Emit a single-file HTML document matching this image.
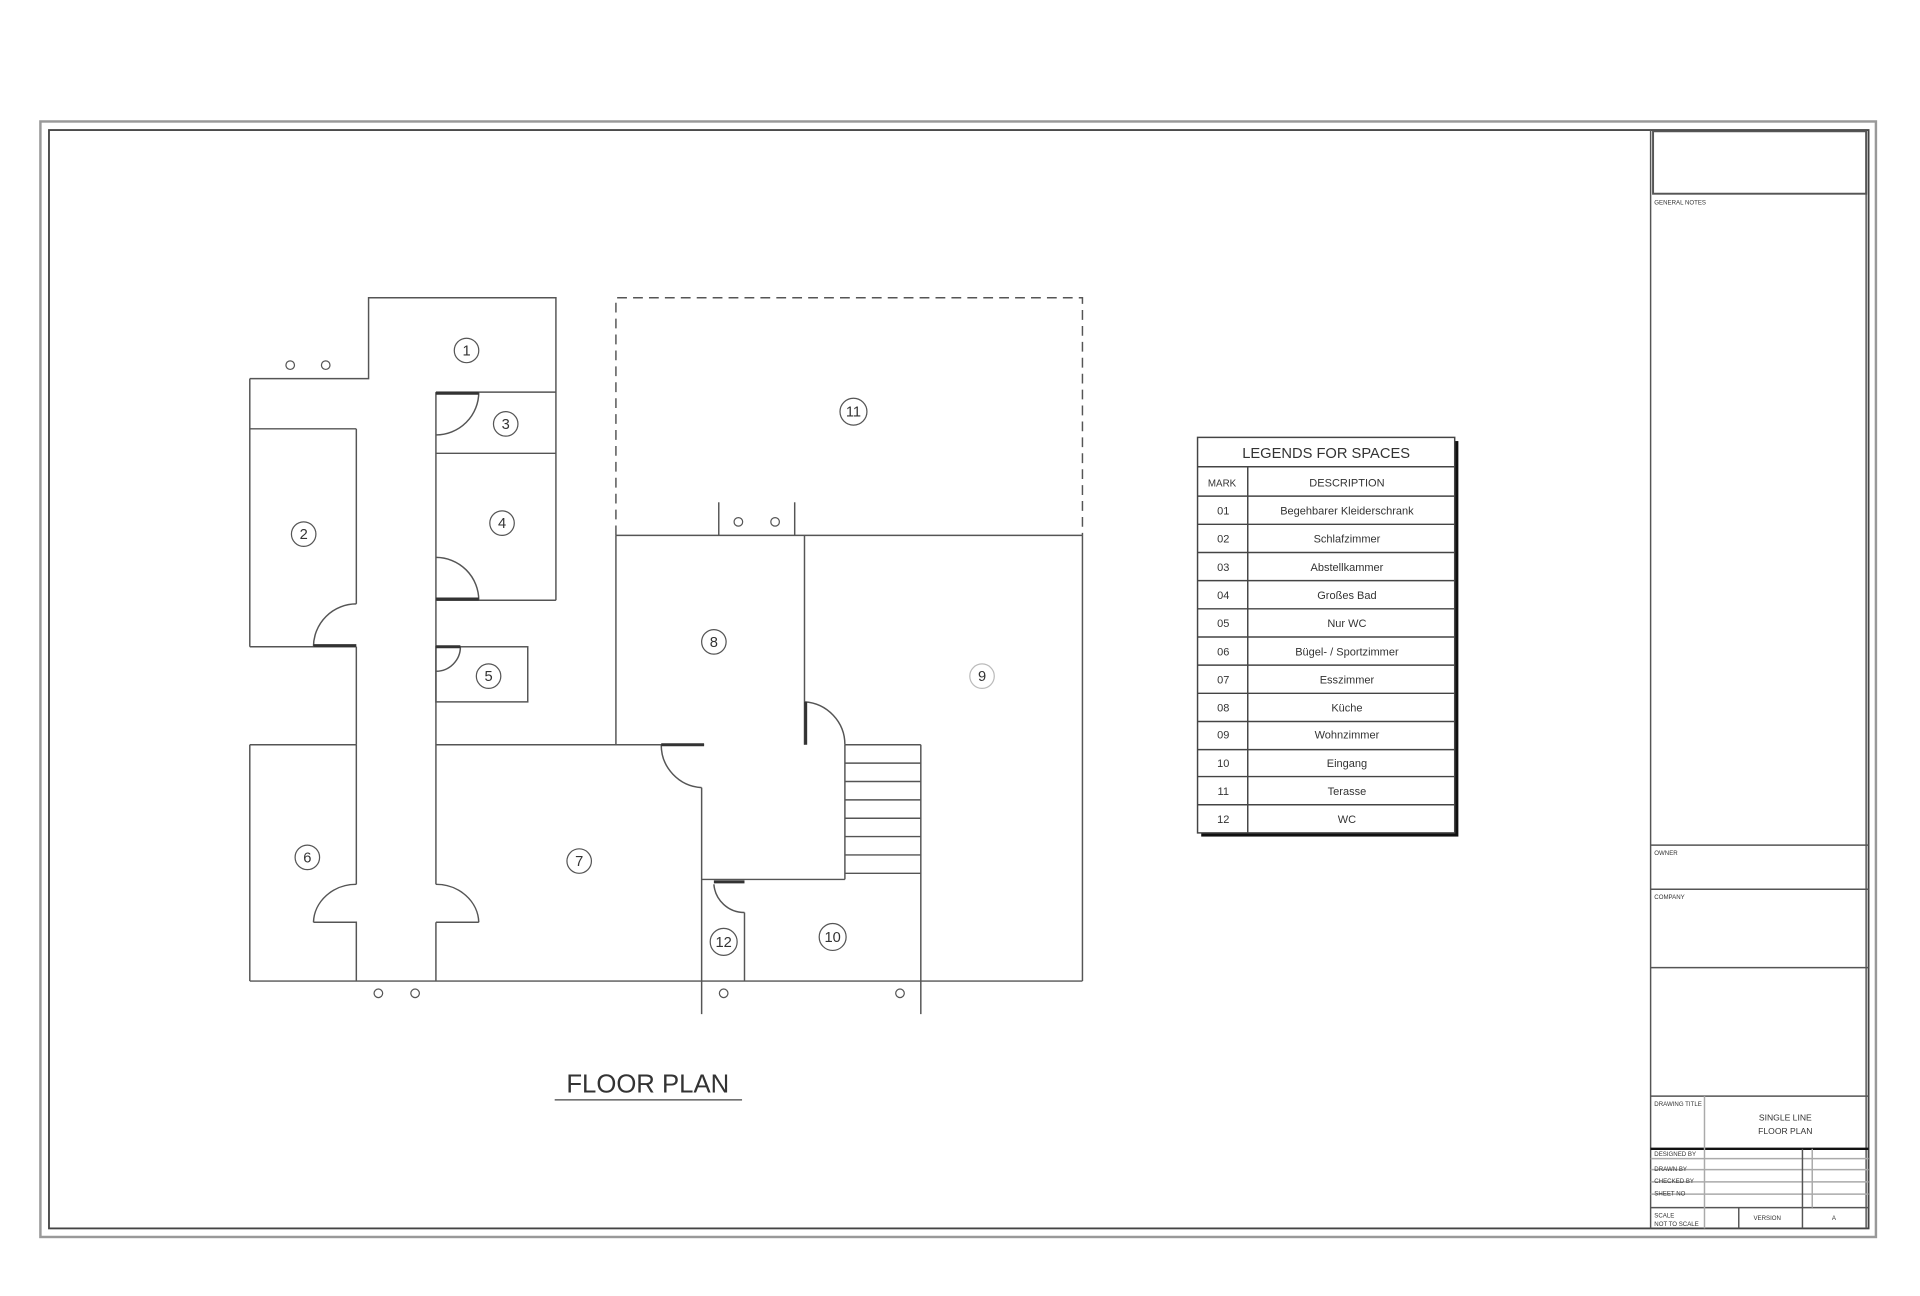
<!DOCTYPE html>
<html><head><meta charset="utf-8"><style>
html,body{margin:0;padding:0;background:#fff;}
svg{display:block;}
text{font-family:"Liberation Sans",sans-serif;fill:#333;}
</style></head><body>
<svg width="1920" height="1296" viewBox="0 0 1568 1058" xmlns="http://www.w3.org/2000/svg">
<rect width="1568" height="1058" fill="#fff"/>
<rect x="33" y="99" width="1499" height="911" fill="none" stroke="#999" stroke-width="2"/>
<rect x="40" y="106" width="1486" height="897" fill="none" stroke="#444" stroke-width="1.5"/>
<g stroke="#555" stroke-width="1.2" fill="none">
<line x1="1348" y1="106" x2="1348" y2="1003"/>
<rect x="1350" y="107" width="174" height="51" stroke-width="1.6"/>
<line x1="1524" y1="158" x2="1524" y2="1003"/>
<line x1="1348" y1="690" x2="1526" y2="690"/>
<line x1="1348" y1="726" x2="1526" y2="726"/>
<line x1="1348" y1="790" x2="1526" y2="790"/>
<line x1="1348" y1="895" x2="1526" y2="895"/>
<line x1="1348" y1="938" x2="1526" y2="938" stroke="#111" stroke-width="2"/>
<line x1="1348" y1="946" x2="1526" y2="946" stroke="#aaa"/>
<line x1="1348" y1="955" x2="1526" y2="955" stroke="#aaa"/>
<line x1="1348" y1="965" x2="1526" y2="965" stroke="#aaa"/>
<line x1="1348" y1="975" x2="1526" y2="975" stroke="#aaa"/>
<line x1="1348" y1="986" x2="1526" y2="986"/>
<line x1="1392" y1="895" x2="1392" y2="1003" stroke="#aaa"/>
<line x1="1472" y1="938" x2="1472" y2="1003"/>
<line x1="1480" y1="938" x2="1480" y2="986" stroke="#aaa"/>
<line x1="1420" y1="986" x2="1420" y2="1003"/>
</g>
<g font-size="5" fill="#444">
<text x="1351" y="167">GENERAL NOTES</text>
<text x="1351" y="698">OWNER</text>
<text x="1351" y="734">COMPANY</text>
<text x="1351" y="903">DRAWING TITLE</text>
<text x="1351" y="944">DESIGNED BY</text>
<text x="1351" y="956">DRAWN BY</text>
<text x="1351" y="966">CHECKED BY</text>
<text x="1351" y="976">SHEET NO</text>
<text x="1351" y="994">SCALE</text>
<text x="1351" y="1001">NOT TO SCALE</text>
<text x="1432" y="996">VERSION</text>
<text x="1496" y="996">A</text>
</g>
<text x="1458" y="915" font-size="7" text-anchor="middle" fill="#555">SINGLE LINE</text>
<text x="1458" y="926" font-size="7" text-anchor="middle" fill="#555">FLOOR PLAN</text>

<g stroke="#555" stroke-width="1.2" fill="none">
<polyline points="204,309 301,309 301,243 454,243 454,490"/>
<line x1="204" y1="309" x2="204" y2="528"/>
<line x1="204" y1="350" x2="291" y2="350"/>
<line x1="204" y1="528" x2="291" y2="528"/>
<line x1="291" y1="350" x2="291" y2="493"/>
<line x1="291" y1="528" x2="291" y2="608"/>
<path d="M291,493 A35,35 0 0 0 256,528"/>
<line x1="356" y1="320" x2="356" y2="722"/>
<line x1="356" y1="753" x2="356" y2="801"/>
<line x1="356" y1="320" x2="454" y2="320"/>
<path d="M391,320 A35,35 0 0 1 356,355"/>
<line x1="356" y1="370" x2="454" y2="370"/>
<line x1="356" y1="490" x2="454" y2="490"/>
<path d="M356,455 A35,35 0 0 1 391,490"/>
<rect x="356" y="528" width="75" height="45"/>
<path d="M376,528 A20,20 0 0 1 356,548"/>
<line x1="204" y1="608" x2="291" y2="608"/>
<line x1="204" y1="608" x2="204" y2="801"/>
<line x1="291" y1="608" x2="291" y2="722"/>
<path d="M291,722 A35,32 0 0 0 256,753"/>
<polyline points="256,753 291,753 291,801"/>
<path d="M356,722 A35,32 0 0 1 391,753"/>
<line x1="356" y1="753" x2="391" y2="753"/>
<line x1="356" y1="608" x2="575" y2="608"/>
<path d="M540,608 A35,35 0 0 0 573,643"/>
<line x1="573" y1="643" x2="573" y2="828"/>
<line x1="503" y1="437" x2="503" y2="608"/>
<line x1="503" y1="437" x2="884" y2="437"/>
<line x1="657" y1="437" x2="657" y2="608"/>
<path d="M657,573 A35,35 0 0 1 690,608"/>
<line x1="690" y1="608" x2="690" y2="718"/>
<line x1="573" y1="718" x2="690" y2="718"/>
<line x1="690" y1="608" x2="752" y2="608"/>
<line x1="690" y1="623" x2="752" y2="623"/>
<line x1="690" y1="638" x2="752" y2="638"/>
<line x1="690" y1="653" x2="752" y2="653"/>
<line x1="690" y1="668" x2="752" y2="668"/>
<line x1="690" y1="683" x2="752" y2="683"/>
<line x1="690" y1="698" x2="752" y2="698"/>
<line x1="690" y1="713" x2="752" y2="713"/>
<line x1="752" y1="608" x2="752" y2="828"/>
<line x1="608" y1="745" x2="608" y2="801"/>
<path d="M583,722 A25,25 0 0 0 608,745"/>
<line x1="204" y1="801" x2="884" y2="801"/>
<line x1="884" y1="437" x2="884" y2="801"/>
<line x1="587" y1="410" x2="587" y2="437"/>
<line x1="649" y1="410" x2="649" y2="437"/>
<g stroke-dasharray="8,5">
<polyline points="503,437 503,243 884,243 884,437"/>
</g>
<g stroke="#333" stroke-width="2.4">
<line x1="356" y1="321" x2="391" y2="321"/>
<line x1="356" y1="489" x2="391" y2="489"/>
<line x1="256" y1="527" x2="291" y2="527"/>
<line x1="356" y1="528" x2="376" y2="528"/>
<line x1="540" y1="608" x2="575" y2="608"/>
<line x1="658" y1="573" x2="658" y2="608"/>
<line x1="583" y1="720" x2="608" y2="720"/>
</g>
<g stroke-width="1">
<circle cx="237" cy="298" r="3.5"/><circle cx="266" cy="298" r="3.5"/>
<circle cx="309" cy="811" r="3.5"/><circle cx="339" cy="811" r="3.5"/>
<circle cx="591" cy="811" r="3.5"/><circle cx="735" cy="811" r="3.5"/>
<circle cx="603" cy="426" r="3.5"/><circle cx="633" cy="426" r="3.5"/>
</g>
<g stroke-width="1">
<circle cx="381" cy="286" r="10"/><circle cx="413" cy="346" r="10"/>
<circle cx="248" cy="436" r="10"/><circle cx="410" cy="427" r="10"/>
<circle cx="399" cy="552" r="10"/><circle cx="583" cy="524" r="10"/>
<circle cx="802" cy="552" r="10" stroke="#bbb"/><circle cx="251" cy="700" r="10"/>
<circle cx="473" cy="703" r="10"/><circle cx="591" cy="769" r="11"/>
<circle cx="680" cy="765" r="11"/><circle cx="697" cy="336" r="11"/>
</g>
</g>
<g font-size="12" text-anchor="middle">
<text x="381" y="290">1</text><text x="413" y="350">3</text>
<text x="248" y="440">2</text><text x="410" y="431">4</text>
<text x="399" y="556">5</text><text x="583" y="528">8</text>
<text x="802" y="556" fill="#bbb">9</text><text x="251" y="704">6</text>
<text x="473" y="707">7</text><text x="591" y="773">12</text>
<text x="680" y="769">10</text><text x="697" y="340">11</text>
</g>
<text x="529" y="892" font-size="21" text-anchor="middle" fill="#222">FLOOR PLAN</text>
<line x1="453" y1="898" x2="606" y2="898" stroke="#444" stroke-width="1"/>

<rect x="981" y="360" width="210" height="323" fill="#111"/>
<rect x="978" y="357" width="210" height="323" fill="#fff" stroke="#444" stroke-width="1.2"/>
<g stroke="#444" stroke-width="1.2">
<line x1="978" y1="381" x2="1188" y2="381"/>
<line x1="1019" y1="381" x2="1019" y2="680"/>
<line x1="978" y1="405" x2="1188" y2="405"/>
<line x1="978" y1="428" x2="1188" y2="428"/>
<line x1="978" y1="451" x2="1188" y2="451"/>
<line x1="978" y1="474" x2="1188" y2="474"/>
<line x1="978" y1="497" x2="1188" y2="497"/>
<line x1="978" y1="520" x2="1188" y2="520"/>
<line x1="978" y1="543" x2="1188" y2="543"/>
<line x1="978" y1="566" x2="1188" y2="566"/>
<line x1="978" y1="589" x2="1188" y2="589"/>
<line x1="978" y1="612" x2="1188" y2="612"/>
<line x1="978" y1="634" x2="1188" y2="634"/>
<line x1="978" y1="657" x2="1188" y2="657"/>
</g>
<text x="1083" y="374" font-size="12" text-anchor="middle" fill="#444">LEGENDS FOR SPACES</text>
<g font-size="9" text-anchor="middle" fill="#555">
<text x="998" y="397" font-size="8">MARK</text><text x="1100" y="397">DESCRIPTION</text>
<text x="999" y="420">01</text><text x="1100" y="420">Begehbarer Kleiderschrank</text>
<text x="999" y="443">02</text><text x="1100" y="443">Schlafzimmer</text>
<text x="999" y="466">03</text><text x="1100" y="466">Abstellkammer</text>
<text x="999" y="489">04</text><text x="1100" y="489">Großes Bad</text>
<text x="999" y="512">05</text><text x="1100" y="512">Nur WC</text>
<text x="999" y="535">06</text><text x="1100" y="535">Bügel- / Sportzimmer</text>
<text x="999" y="558">07</text><text x="1100" y="558">Esszimmer</text>
<text x="999" y="581">08</text><text x="1100" y="581">Küche</text>
<text x="999" y="603">09</text><text x="1100" y="603">Wohnzimmer</text>
<text x="999" y="626">10</text><text x="1100" y="626">Eingang</text>
<text x="999" y="649">11</text><text x="1100" y="649">Terasse</text>
<text x="999" y="672">12</text><text x="1100" y="672">WC</text>
</g>
</svg>
</body></html>
